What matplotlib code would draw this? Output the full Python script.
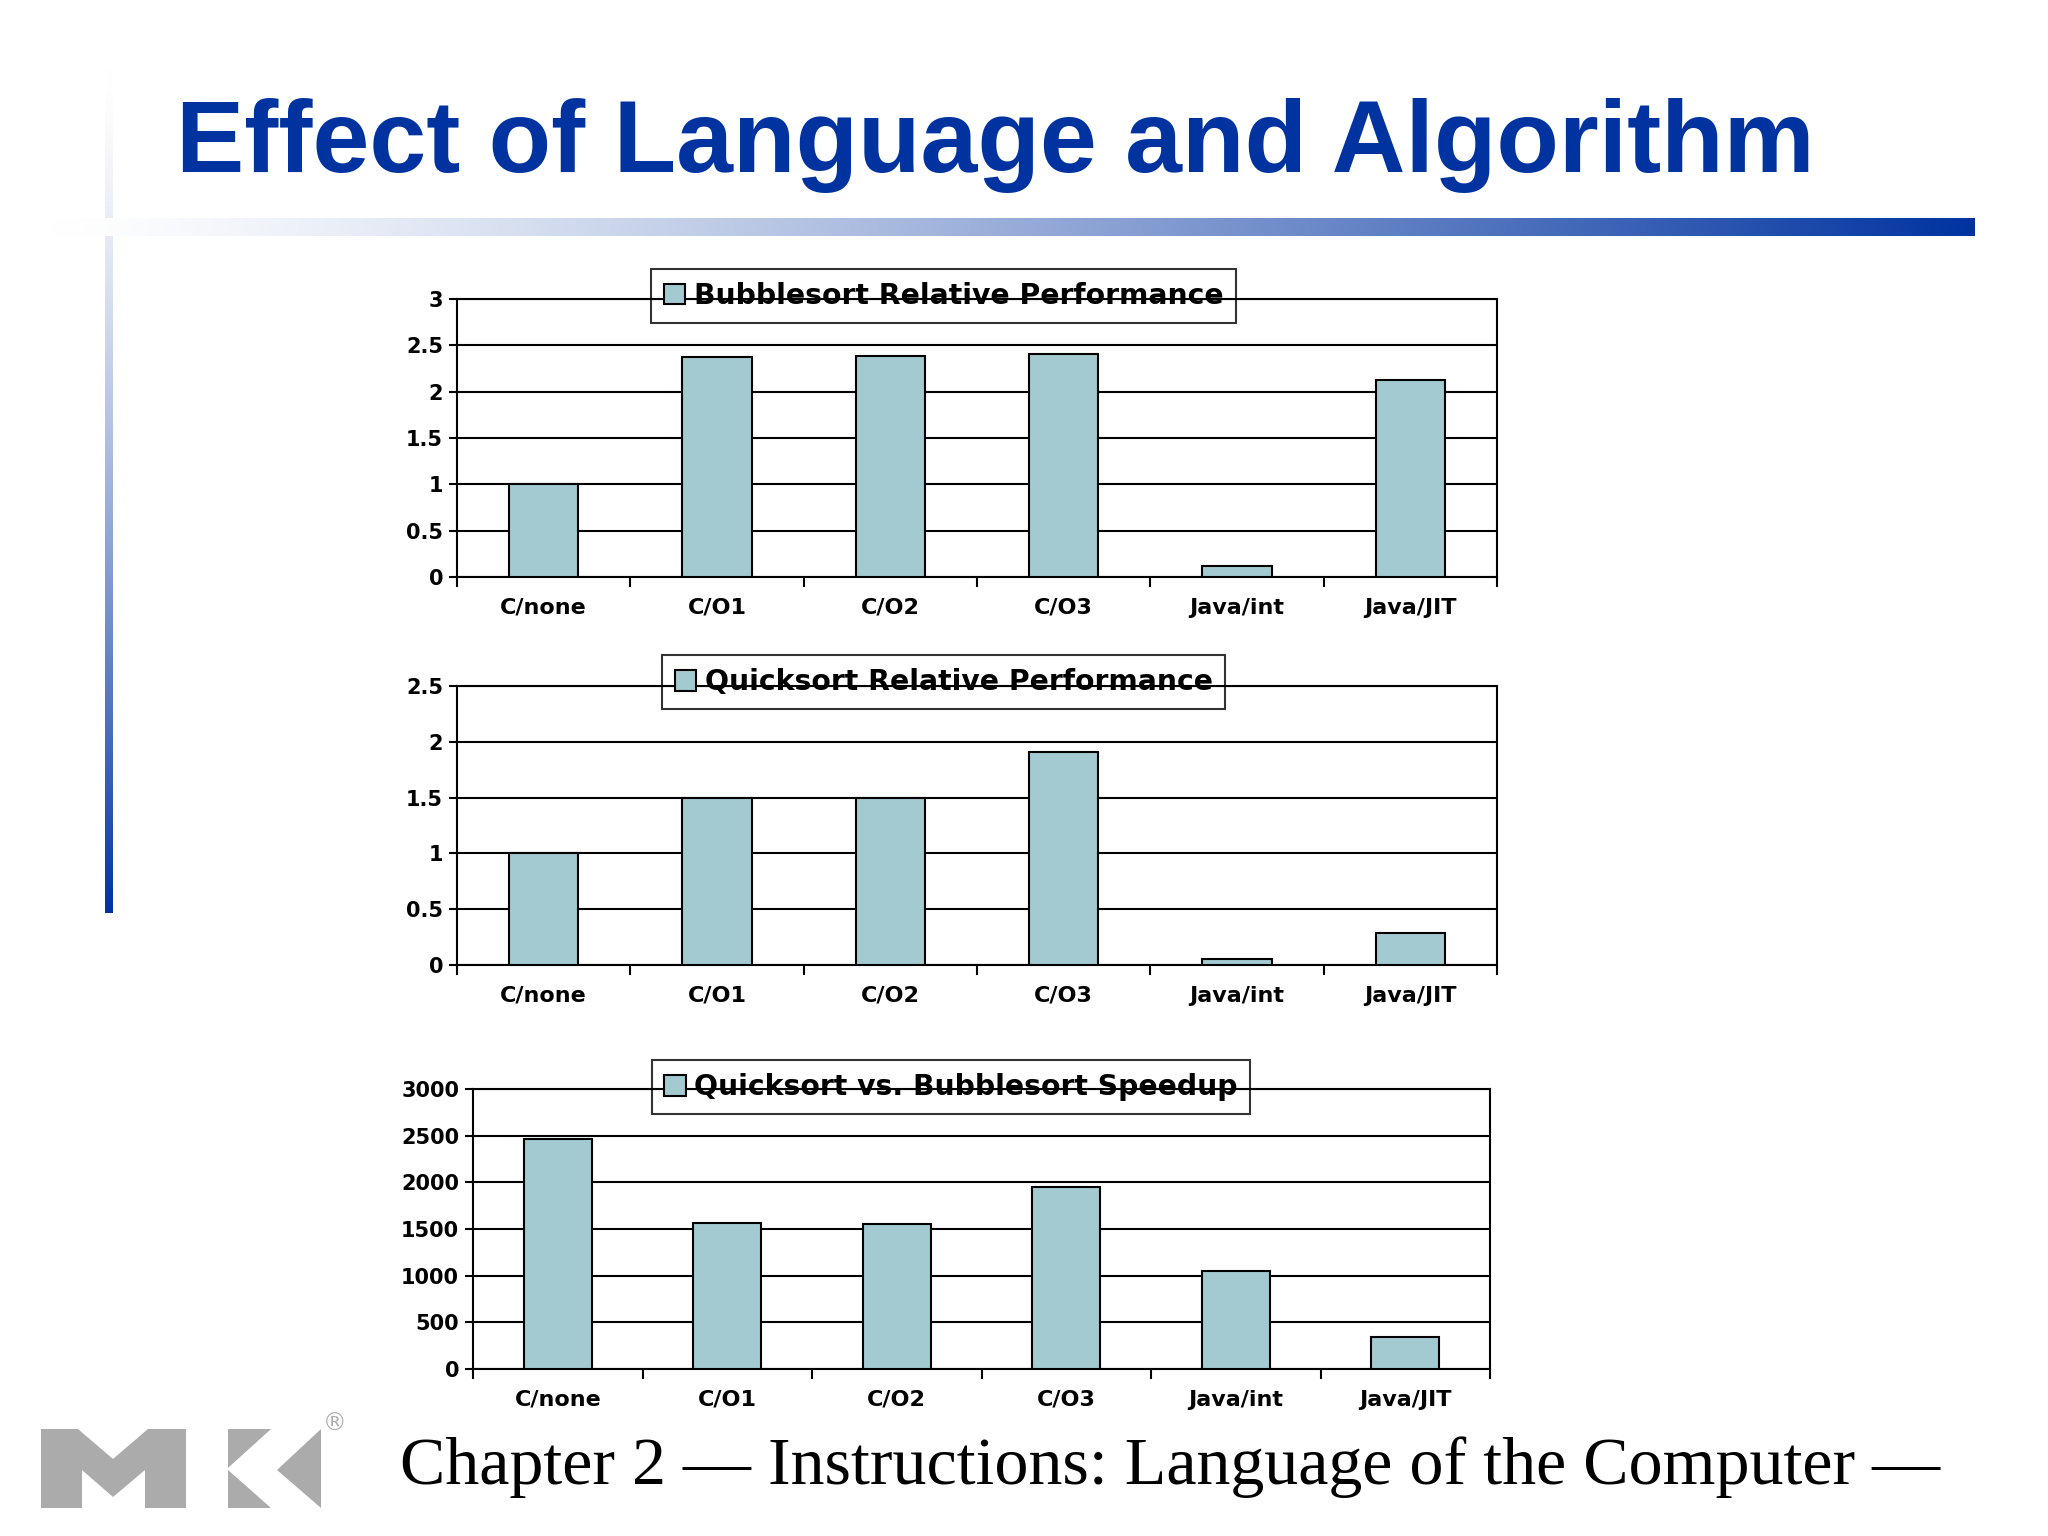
import numpy as np
import matplotlib
matplotlib.use("Agg")
import matplotlib.pyplot as plt
from matplotlib.patches import Polygon
from matplotlib.ticker import FuncFormatter, MultipleLocator, FixedLocator

# ---------------- data ----------------
categories = ["C/none", "C/O1", "C/O2", "C/O3", "Java/int", "Java/JIT"]
bubblesort_rel = [1.00, 2.37, 2.38, 2.41, 0.12, 2.13]
quicksort_rel = [1.00, 1.50, 1.50, 1.91, 0.05, 0.29]
speedup = [2468, 1562, 1555, 1955, 1050, 338]

series_labels = ["Bubblesort Relative Performance",
                 "Quicksort Relative Performance",
                 "Quicksort vs. Bubblesort Speedup"]
title_text = "Effect of Language and Algorithm"
footer_text = "Chapter 2 \u2014 Instructions: Language of the Computer \u2014"

BAR_COLOR = "#A3C9D1"
BLUE = "#0033A0"
W, H = 2048, 1536

fig = plt.figure(figsize=(20.48, 15.36), dpi=100)
fig.patch.set_facecolor("white")

# ---------------- background decorations ----------------
bg = fig.add_axes([0, 0, 1, 1], zorder=-5)
bg.set_xlim(0, W)
bg.set_ylim(H, 0)
bg.axis("off")

blue_rgb = np.array(matplotlib.colors.to_rgb(BLUE))
white = np.array([1.0, 1.0, 1.0])

# horizontal gradient bar
t = np.linspace(0, 1, 512) ** 1.3
hgrad = (white[None, :] * (1 - t[:, None]) + blue_rgb[None, :] * t[:, None])[None, :, :]
bg.imshow(hgrad, extent=(52, 1975, 236, 218), aspect="auto", interpolation="bicubic", zorder=2)

# vertical gradient bar
tv = np.linspace(0, 1, 512) ** 1.4
vgrad = (white[None, :] * (1 - tv[:, None]) + blue_rgb[None, :] * tv[:, None])[:, None, :]
bg.imshow(vgrad, extent=(105, 113, 913, 70), aspect="auto", interpolation="bicubic", zorder=1)

# MK logo
gray = "#ABABAB"
M_pts = [(41, 1429), (78, 1429), (113, 1459), (148, 1429), (186, 1429), (186, 1508),
         (145, 1508), (145, 1470), (113, 1497), (82, 1470), (82, 1508), (41, 1508)]
bg.add_patch(Polygon(M_pts, closed=True, facecolor=gray, edgecolor="none"))
bg.add_patch(Polygon([(228, 1429), (271, 1429), (228, 1468)], closed=True, facecolor=gray, edgecolor="none"))
bg.add_patch(Polygon([(228, 1470), (271, 1508), (228, 1508)], closed=True, facecolor=gray, edgecolor="none"))
bg.add_patch(Polygon([(321, 1429), (277, 1470), (321, 1508)], closed=True, facecolor=gray, edgecolor="none"))
bg.text(335, 1424, "\u00ae", fontsize=17, color=gray, ha="center", va="center", family="DejaVu Sans")

# title
fig.text(176 / W, 1 - 172 / H, title_text, fontsize=73.6, fontweight="bold",
         family="Liberation Sans", color=BLUE, ha="left", va="baseline")

# footer
fig.text(400 / W, 1 - 1484 / H, footer_text, fontsize=49,
         family="Liberation Serif", color="black", ha="left", va="baseline")

# ---------------- charts ----------------
def fmt(v, pos):
    return ("%g" % v)

def make_chart(rect, values, label, ymax, ystep, legend_anchor):
    ax = fig.add_axes(rect)
    x = np.arange(len(categories))
    ax.bar(x, values, width=0.4, color=BAR_COLOR, edgecolor="black",
           linewidth=1.5, label=label, zorder=3)
    ax.set_xlim(-0.5, len(categories) - 0.5)
    ax.set_ylim(0, ymax)
    ax.yaxis.set_major_locator(MultipleLocator(ystep))
    ax.yaxis.set_major_formatter(FuncFormatter(fmt))
    ax.grid(axis="y", color="black", linewidth=1.5, zorder=0)
    ax.set_axisbelow(True)
    ax.set_xticks(x)
    ax.set_xticklabels(categories)
    ax.xaxis.set_minor_locator(FixedLocator(np.arange(-0.5, len(categories), 1.0)))
    ax.tick_params(axis="x", which="major", length=0, pad=15)
    ax.tick_params(axis="x", which="minor", length=7, width=1.5, direction="out")
    ax.tick_params(axis="y", which="major", length=6, width=1.5, direction="out", pad=4)
    for lbl in ax.get_xticklabels():
        lbl.set_fontsize(16)
        lbl.set_fontweight("bold")
        lbl.set_family("DejaVu Sans")
    for lbl in ax.get_yticklabels():
        lbl.set_fontsize(15)
        lbl.set_fontweight("bold")
        lbl.set_family("DejaVu Sans")
    for s in ax.spines.values():
        s.set_linewidth(1.5)
        s.set_color("black")
    leg = ax.legend(loc="center", bbox_to_anchor=legend_anchor, frameon=True,
                    prop={"family": "DejaVu Sans", "weight": "bold", "size": 20.3},
                    handlelength=0.75, handleheight=0.75, handletextpad=0.3,
                    borderpad=0.45, fancybox=False, borderaxespad=0)
    frame = leg.get_frame()
    frame.set_facecolor("none")
    frame.set_edgecolor("black")
    frame.set_linewidth(1.5)
    leg.set_zorder(10)
    return ax

make_chart([457 / W, 1 - 577 / H, 1040 / W, 278 / H], bubblesort_rel, series_labels[0],
           3.0, 0.5, (0.468, 1.011))
make_chart([457 / W, 1 - 965 / H, 1040 / W, 279 / H], quicksort_rel, series_labels[1],
           2.5, 0.5, (0.468, 1.014))
make_chart([473 / W, 1 - 1369 / H, 1017 / W, 280 / H], speedup, series_labels[2],
           3000, 500, (0.47, 1.007))

fig.savefig("out.png", dpi=100, facecolor="white")
